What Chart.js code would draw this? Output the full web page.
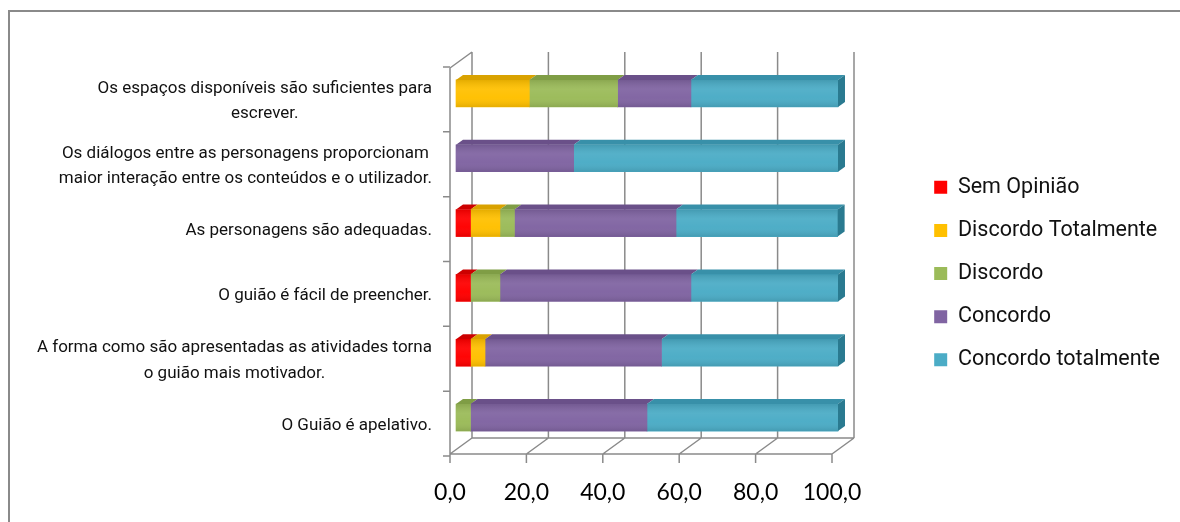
<!DOCTYPE html>
<html lang="pt">
<head>
<meta charset="utf-8">
<title>Avaliação do guião</title>
<script src="https://cdn.jsdelivr.net/npm/chart.js@4.4.1/dist/chart.umd.min.js"></script>
<style>
  html, body { margin: 0; padding: 0; background: #fff; overflow: hidden; }
  #wrap { position: relative; width: 1180px; height: 522px; overflow: hidden; }
  #frame { position: absolute; left: 8px; top: 10px; width: 1300px; height: 700px;
           border-left: 2px solid #8a8a8a; border-top: 2px solid #8a8a8a; }
  #chart { position: absolute; left: 0; top: 0; }
</style>
</head>
<body>
<div id="wrap">
  <div id="frame"></div>
  <canvas id="chart" width="1180" height="522"></canvas>
</div>
<script>
// Questionnaire statements, top to bottom
const categories = [
  ['Os espaços disponíveis são suficientes para', 'escrever.'],
  ['Os diálogos entre as personagens proporcionam', 'maior interação entre os conteúdos e o utilizador.'],
  'As personagens são adequadas.',
  'O guião é fácil de preencher.',
  ['A forma como são apresentadas as atividades torna', 'o guião mais motivador.'],
  'O Guião é apelativo.'
];

// Answer shares (%) per statement
const semOpiniao         = [0,    0,    3.8,  3.8,  3.8,  0];
const discordoTotalmente = [19.2, 0,    7.7,  0,    3.8,  0];
const discordo           = [23.1, 0,    3.8,  7.7,  0,    3.8];
const concordo           = [19.2, 30.8, 42.3, 50.0, 46.2, 46.2];
const concordoTotalmente = [38.5, 69.2, 42.3, 38.5, 46.2, 50.0];

const seriesNames = ['Sem Opinião', 'Discordo Totalmente', 'Discordo', 'Concordo', 'Concordo totalmente'];
const xTickValues = [0, 20, 40, 60, 80, 100];

// face colours: front, top, end
const palette = [
  ['#FF0000', '#CC0000', '#A00000'],
  ['#FFC000', '#D9A200', '#B58700'],
  ['#9BBB59', '#7F9D45', '#6A8538'],
  ['#8064A2', '#6A5089', '#574172'],
  ['#4BACC6', '#3890A9', '#2A7A90']
];

// layout and 3D geometry (pixels)
const Y_AXIS_WIDTH = 450;
const PLOT_RIGHT = 832;
const LEGEND_RIGHT_PAD = 10;
const WALL_DX = 22, WALL_DY = -16;
const BAR_DX = 6, BAR_DY = -8;
const BAR_DEPTH_DX = 7, BAR_DEPTH_DY = -5;
const LINE_COLOR = '#8a8a8a';
const LABEL_FONT = '17px Roboto';
const LABEL_LINE = 25.5;

function poly(ctx, pts, fill) {
  ctx.beginPath();
  ctx.moveTo(pts[0][0], pts[0][1]);
  for (let k = 1; k < pts.length; k++) ctx.lineTo(pts[k][0], pts[k][1]);
  ctx.closePath();
  ctx.fillStyle = fill;
  ctx.fill();
}

const walls3d = {
  id: 'walls3d',
  beforeDatasetsDraw(chart) {
    const { ctx, chartArea, scales: { x, y } } = chart;
    const left = x.getPixelForValue(0), right = x.getPixelForValue(100);
    const top = chartArea.top - 1, bottom = chartArea.bottom - 4;
    ctx.save();
    ctx.strokeStyle = LINE_COLOR;
    ctx.lineWidth = 1.5;
    ctx.beginPath();
    x.ticks.forEach(t => {
      const px = x.getPixelForValue(t.value);
      // back wall gridline
      ctx.moveTo(px + WALL_DX, top + WALL_DY);
      ctx.lineTo(px + WALL_DX, bottom + WALL_DY);
      // floor line
      ctx.moveTo(px, bottom);
      ctx.lineTo(px + WALL_DX, bottom + WALL_DY);
      // tick mark
      ctx.moveTo(px, bottom);
      ctx.lineTo(px, bottom + 9);
    });
    // floor edges
    ctx.moveTo(left, bottom); ctx.lineTo(right, bottom);
    ctx.moveTo(left + WALL_DX, bottom + WALL_DY); ctx.lineTo(right + WALL_DX, bottom + WALL_DY);
    // side wall
    ctx.moveTo(left, top); ctx.lineTo(left, bottom);
    ctx.moveTo(left, top); ctx.lineTo(left + WALL_DX, top + WALL_DY);
    // category ticks
    const n = y.ticks.length;
    const band = (chartArea.bottom - chartArea.top) / n;
    for (let k = 0; k <= n; k++) {
      const py = y.getPixelForTick(0) - band / 2 + k * band - 2;
      ctx.moveTo(left - 7, py); ctx.lineTo(left, py);
    }
    ctx.stroke();
    ctx.restore();

    // bars sit a little behind the front plane
    ctx.save();
    ctx.translate(BAR_DX, BAR_DY);
  },
  afterDatasetsDraw(chart) {
    const ctx = chart.ctx;
    const n = chart.data.labels.length;
    const lastSeg = new Array(n).fill(-1);
    chart.data.datasets.forEach((ds, di) => ds.data.forEach((v, i) => { if (v > 0) lastSeg[i] = di; }));

    chart.data.datasets.forEach((ds, di) => {
      const meta = chart.getDatasetMeta(di);
      meta.data.forEach((bar, i) => {
        if (!(ds.data[i] > 0)) return;
        const p = bar.getProps(['x', 'base', 'y', 'height'], true);
        const l = Math.min(p.x, p.base), r = Math.max(p.x, p.base);
        const t = p.y - p.height / 2, b = p.y + p.height / 2;
        // soft cylindrical shading on the front face
        const g = ctx.createLinearGradient(0, t, 0, b);
        g.addColorStop(0, 'rgba(0,0,0,0.10)');
        g.addColorStop(0.35, 'rgba(255,255,255,0.06)');
        g.addColorStop(0.65, 'rgba(255,255,255,0.02)');
        g.addColorStop(1, 'rgba(0,0,0,0.10)');
        ctx.fillStyle = g;
        ctx.fillRect(l, t, r - l, b - t);
        // top face
        poly(ctx, [[l, t], [r, t], [r + BAR_DEPTH_DX, t + BAR_DEPTH_DY], [l + BAR_DEPTH_DX, t + BAR_DEPTH_DY]], ds.topColor);
        // end face
        if (lastSeg[i] === di) {
          poly(ctx, [[r, t], [r + BAR_DEPTH_DX, t + BAR_DEPTH_DY], [r + BAR_DEPTH_DX, b + BAR_DEPTH_DY], [r, b]], ds.endColor);
        }
      });
    });
    ctx.restore();
  },
  afterDraw(chart) {
    // statement labels: block right-aligned, lines centred inside the block
    const { ctx, chartArea, scales: { y } } = chart;
    const xr = chartArea.left - 18;
    ctx.save();
    ctx.font = LABEL_FONT;
    ctx.fillStyle = '#111';
    ctx.textAlign = 'center';
    ctx.textBaseline = 'middle';
    chart.data.labels.forEach((lab, i) => {
      const lines = Array.isArray(lab) ? lab : [lab];
      const w = Math.max(...lines.map(s => ctx.measureText(s).width));
      const cx = xr - w / 2;
      const cy = y.getPixelForTick(i);
      lines.forEach((s, k) => {
        ctx.fillText(s, cx, cy + (k - (lines.length - 1) / 2) * LABEL_LINE);
      });
    });
    ctx.restore();
  }
};

const seriesValues = [semOpiniao, discordoTotalmente, discordo, concordo, concordoTotalmente];

new Chart(document.getElementById('chart'), {
  type: 'bar',
  data: {
    labels: categories,
    datasets: seriesNames.map((name, k) => ({
      label: name,
      data: seriesValues[k],
      backgroundColor: palette[k][0],
      topColor: palette[k][1],
      endColor: palette[k][2],
      borderWidth: 0,
      inflateAmount: c => (c.raw > 0 ? 0.33 : 0),
      barThickness: 27,
      clip: false
    }))
  },
  options: {
    indexAxis: 'y',
    responsive: false,
    animation: false,
    devicePixelRatio: 1,
    events: [],
    layout: { padding: { top: 69, right: LEGEND_RIGHT_PAD, bottom: 0, left: 0 } },
    scales: {
      x: {
        type: 'linear',
        stacked: true,
        bounds: 'data',
        // the value axis runs 0–100 up to PLOT_RIGHT; the space beyond holds the depth of the walls
        afterDataLimits: s => {
          s.min = 0;
          s.max = 100 * s.maxWidth / (PLOT_RIGHT - Y_AXIS_WIDTH);
        },
        afterBuildTicks: s => { s.ticks = xTickValues.map(v => ({ value: v })); },
        afterFit: s => { s.height = 64; },
        grid: { display: false },
        border: { display: false },
        ticks: {
          padding: 13,
          color: '#000',
          font: { family: 'Lato', size: 23 },
          callback: v => Number(v).toFixed(1).replace('.', ',')
        }
      },
      y: {
        type: 'category',
        stacked: true,
        afterFit: s => { s.width = Y_AXIS_WIDTH; },
        grid: { display: false },
        border: { display: false },
        ticks: { display: false }
      }
    },
    plugins: {
      tooltip: { enabled: false },
      legend: {
        position: 'right',
        align: 'start',
        title: { display: true, text: '', font: { size: 12, lineHeight: 1 }, padding: { top: 74, bottom: 0 } },
        labels: {
          boxWidth: 13,
          boxHeight: 13,
          padding: 21.6,
          color: '#111',
          font: { family: 'Roboto', size: 21.5 }
        }
      }
    }
  },
  plugins: [walls3d]
});
</script>
</body>
</html>
